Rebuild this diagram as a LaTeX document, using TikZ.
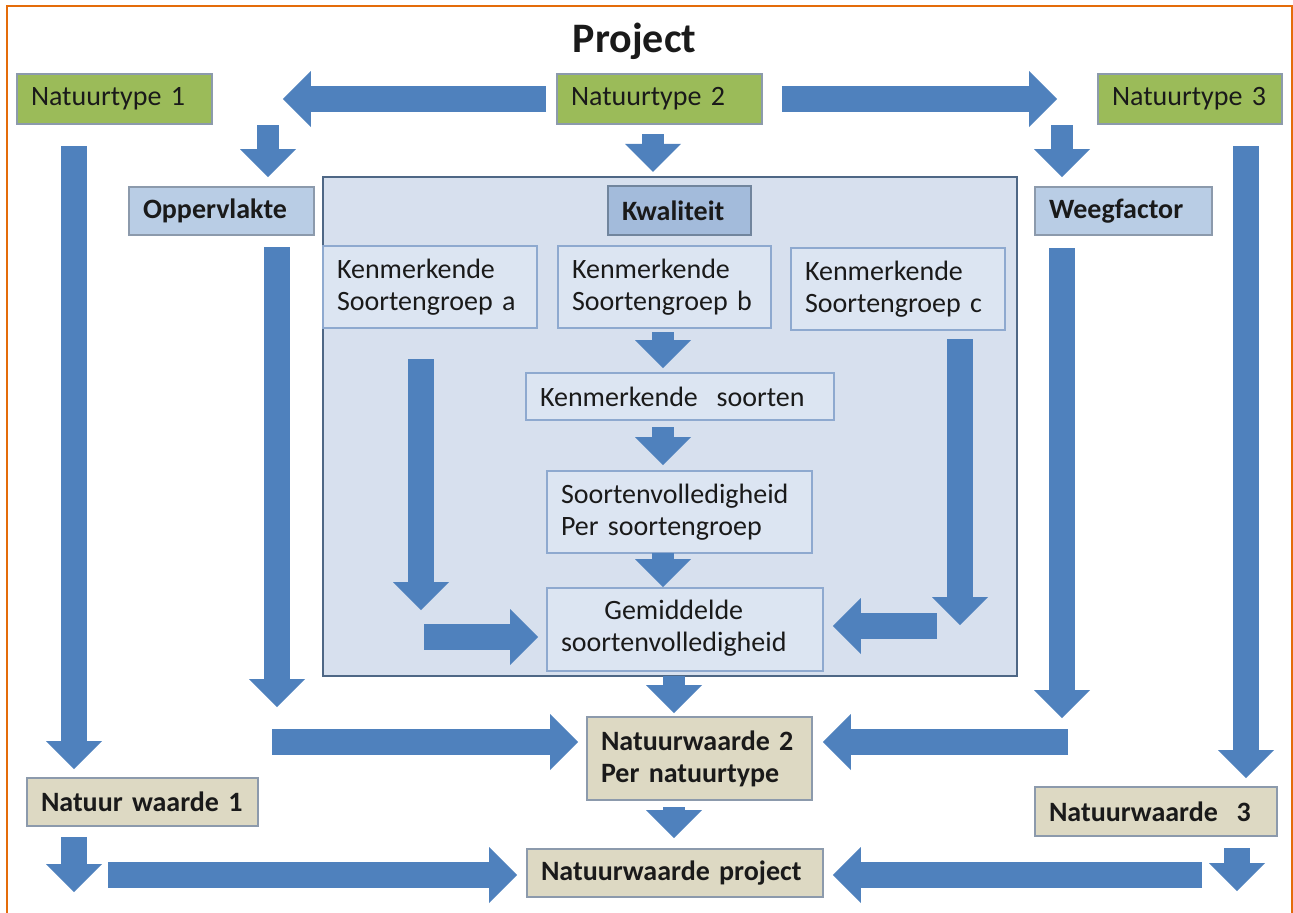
\documentclass[tikz,border=0pt]{standalone}
\usepackage{fontspec}
\setmainfont{Carlito}
\usetikzlibrary{arrows.meta}

\definecolor{natgreen}{HTML}{9BBB59}
\definecolor{factblue}{HTML}{B9CDE5}
\definecolor{kwalblue}{HTML}{A3BBDB}
\definecolor{framefill}{HTML}{D7E0EE}
\definecolor{frameedge}{HTML}{4E6785}
\definecolor{groupfill}{HTML}{DCE5F2}
\definecolor{groupedge}{HTML}{8EA9CF}
\definecolor{waardetan}{HTML}{DDD9C3}
\definecolor{edgegray}{HTML}{8C9AAC}
\definecolor{arrowblue}{HTML}{4F81BD}
\definecolor{frameorange}{HTML}{E46C0A}
\definecolor{txt}{HTML}{1A1A1A}

\begin{document}
\begin{tikzpicture}
            [x=0.5pt, y=-0.5pt, font=\fontsize{14}{16}\selectfont, text=txt,
            blk/.style={draw=arrowblue, line width=13pt, -{Triangle[length=14pt, width=28pt, line width=0pt]}},
            blks/.style={blk, line width=11pt},
            box/.style={rectangle, draw=edgegray, line width=0.8pt, inner xsep=7pt, inner ysep=1pt, align=left},
            natbox/.style={box, fill=natgreen, minimum height=25pt},
            factbox/.style={box, fill=factblue, minimum height=24pt, font=\fontsize{14}{16}\selectfont\bfseries},
            groupbox/.style={box, draw=groupedge, fill=groupfill},
            waardebox/.style={box, fill=waardetan, font=\fontsize{14}{16}\selectfont\bfseries}]

            \useasboundingbox (0,0) rectangle (1293,912);
            \draw[frameorange, line width=1.3pt] (7,920) -- (7,6) -- (1292,6) -- (1292,920);

            \node[font=\fontsize{21}{24}\selectfont\bfseries, anchor=base] (title) at (634.5,52) {Project};

            \node[natbox, text width=83.5pt] (N1) at (114.5,99) {Natuurtype 1};
            \node[natbox, text width=88.5pt] (N2) at (659.5,99) {Natuurtype 2};
            \node[natbox, text width=78pt]   (N3) at (1190,99) {Natuurtype 3};

            \node[factbox, text width=78.5pt] (Opp) at (221.5,211) {Oppervlakte};
            \node[factbox, text width=74.5pt] (Wf)  at (1123.5,211) {Weegfactor};

            \node[rectangle, draw=frameedge, line width=1.2pt, fill=framefill,
                  minimum width=347pt, minimum height=249.5pt] (Kf) at (670,426.5) {};
            \node[factbox, fill=kwalblue, draw=frameedge!80, text width=57.5pt, minimum height=24.5pt] (Kw) at (679.5,210.5) {Kwaliteit};

            \node[groupbox, text width=93pt,   minimum height=41pt] (Ka) at (430,287)   {Kenmerkende\\Soortengroep a};
            \node[groupbox, text width=92.5pt, minimum height=41pt] (Kb) at (664.5,287) {Kenmerkende\\Soortengroep b};
            \node[groupbox, text width=93pt,   minimum height=41pt] (Kc) at (898,289)   {Kenmerkende\\Soortengroep c};
            \node[groupbox, text width=140pt,  minimum height=23.5pt] (Ks) at (680,396.5) {Kenmerkende\ \ soorten};
            \node[groupbox, text width=118.5pt, minimum height=41pt] (Sv) at (679.5,512) {Soortenvolledigheid\\Per soortengroep};
            \node[groupbox, text width=124pt,  minimum height=41.5pt] (Gs) at (685,629.5)
                {\begin{tabular}{@{}c@{}}Gemiddelde\\soortenvolledigheid\end{tabular}};

            \node[waardebox, text width=98.5pt, minimum height=41.5pt] (W2) at (699.5,758.5) {Natuurwaarde 2\\Per natuurtype};
            \node[waardebox, text width=101.5pt, minimum height=24pt] (W1) at (142.5,802) {Natuur waarde 1};
            \node[waardebox, text width=107pt,  minimum height=24.5pt] (W3) at (1156,811.5) {Natuurwaarde\ \ 3};
            \node[waardebox, text width=134pt,  minimum height=24pt] (Wp) at (675,873) {Natuurwaarde project};

            \coordinate (t3) at (268,125);
            \coordinate (t4) at (653,134);
            \coordinate (t5) at (1062,125);
            \coordinate (t6) at (74,146);
            \coordinate (t7) at (277,247);   \coordinate (e7) at (277,707);
            \coordinate (t8) at (421,359);   \coordinate (e8) at (421,610);
            \coordinate (t9) at (424,637);
            \coordinate (t10) at (663,332);
            \coordinate (t11) at (663,427);
            \coordinate (t12) at (663,553);
            \coordinate (t13) at (960,339);  \coordinate (e13) at (960,625);
            \coordinate (t14) at (937,626);
            \coordinate (t15) at (674,676);
            \coordinate (t16) at (272,742);
            \coordinate (t17) at (1068,742);
            \coordinate (t18) at (1062,248); \coordinate (e18) at (1062,718);
            \coordinate (t19) at (1246,146);
            \coordinate (t20) at (674,807);
            \coordinate (t21) at (74,837);   \coordinate (e21) at (74,892);
            \coordinate (t22) at (108,875);
            \coordinate (t23) at (1202,875);
            \coordinate (t24) at (1237,848); \coordinate (e24) at (1237,891);

            \draw[blk, shorten <=5pt, shorten >=35pt] (N2.west) -- (N1.east);
            \draw[blk, shorten <=9.5pt, shorten >=20pt] (N2.east) -- (N3.west);
            \draw[blks, shorten >=4.5pt] (t3) -- (t3 |- Opp.north);
            \draw[blks, shorten >=2pt] (t4) -- (t4 |- Kf.north);
            \draw[blks, shorten >=4.5pt] (t5) -- (t5 |- Wf.north);
            \draw[blk, shorten >=4pt] (t6) -- (t6 |- W1.north);
            \draw[blk] (t7) -- (e7);
            \draw[blk] (t8) -- (e8);
            \draw[blk, shorten >=4pt] (t9) -- (t9 -| Gs.west);
            \draw[blks, shorten >=2pt] (t10) -- (t10 |- Ks.north);
            \draw[blks, shorten >=2.5pt] (t11) -- (t11 |- Sv.north);
            \draw[blks] (t12) -- (t12 |- Gs.north);
            \draw[blk] (t13) -- (e13);
            \draw[blk, shorten >=4.5pt] (t14) -- (t14 -| Gs.east);
            \draw[blks, shorten >=1.5pt] (t15) -- (t15 |- W2.north);
            \draw[blk, shorten >=4pt] (t16) -- (t16 -| W2.west);
            \draw[blk, shorten >=5pt] (t17) -- (t17 -| W2.east);
            \draw[blk] (t18) -- (e18);
            \draw[blk, shorten >=4pt] (t19) -- (t19 |- W3.north);
            \draw[blks, shorten >=5pt] (t20) -- (t20 |- Wp.north);
            \draw[blk] (t21) -- (e21);
            \draw[blk, shorten >=4.5pt] (t22) -- (t22 -| Wp.west);
            \draw[blk, shorten >=4.5pt] (t23) -- (t23 -| Wp.east);
            \draw[blk] (t24) -- (e24);
\end{tikzpicture}
\end{document}
